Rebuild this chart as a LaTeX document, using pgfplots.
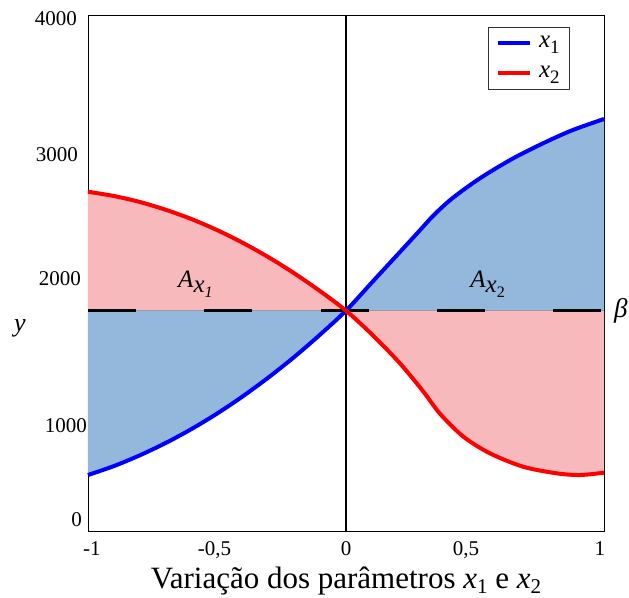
\documentclass[border=0pt]{standalone}
\usepackage{pgfplots}
\pgfplotsset{compat=1.18}
\usepgfplotslibrary{fillbetween}
\usepackage{fontspec}
\setmainfont{Liberation Serif}
\definecolor{fillblue}{RGB}{147,184,220}
\definecolor{fillpink}{RGB}{247,185,187}
\definecolor{basegray}{RGB}{160,150,175}
\begin{document}
\begin{tikzpicture}
\begin{axis}[
  at={(0,0)}, anchor=south west,
  scale only axis, width=516pt, height=516pt,
  xmin=-1, xmax=1, ymin=0, ymax=4000,
  clip=false,
  axis line style={line width=0.8pt},
  major tick length=0pt,
  xtick={-0.985,-0.51,0,0.465,0.984},
  xticklabels={{-1},{-0,5},{0},{0,5},{1}},
  xticklabel style={font=\fontsize{21}{25}\selectfont, anchor=base, inner sep=0pt, yshift=-24pt},
  ytick={85,818,1953,2915,3973},
  yticklabels={{0\hspace*{-5pt}},{1000\hspace*{-10pt}},{2000\hspace*{-4pt}},{3000\hspace*{-1pt}},{4000}},
  yticklabel style={font=\fontsize{21}{25}\selectfont, anchor=east, inner sep=0pt, xshift=-11pt},
  xlabel={Variação dos parâmetros \textit{x}\raisebox{-5pt}{\fontsize{21}{23}\selectfont 1} e \textit{x}\raisebox{-5pt}{\fontsize{21}{23}\selectfont 2}},
  xlabel style={at={(axis description cs:0.5,0)}, anchor=base, yshift=-57pt, font=\fontsize{31}{34}\selectfont},
  ylabel={\textit{y}},
  ylabel style={at={(axis description cs:-0.132,0.393)}, rotate=-90, anchor=center, font=\fontsize{26}{30}\selectfont},
  legend style={at={(axis description cs:0.934,0.977)}, anchor=north east, draw=black!80, line width=0.6pt,
    inner xsep=8pt, inner ysep=3pt, row sep=4pt, column sep=5pt,
    nodes={inner sep=2pt, text height=15pt, text depth=7pt}},
  legend cell align=left,
  legend image code/.code={\draw[#1, line width=4pt] (0pt,0pt) -- (32pt,0pt);},
]
\addplot[draw=none, name path=base, forget plot] coordinates {(-1,1708) (1,1708)};
\addplot[basegray, line width=1.5pt, forget plot] coordinates {(-1,1708) (1,1708)};
\addplot[black, line width=3pt, dash pattern=on 48pt off 68.25pt, forget plot] coordinates {(-1,1708) (1,1708)};
\addplot[black, line width=2.5pt, forget plot] coordinates {(0,0) (0,4000)};
\addplot[blue, line width=4pt, smooth, name path=xone] coordinates {
(-1,434) (-0.9,503) (-0.8,586) (-0.7,681) (-0.6,789) (-0.5,910) (-0.4,1044) (-0.3,1191) (-0.2,1350) (-0.1,1523) (0,1708)
(0.1,1926) (0.2,2143) (0.28,2317) (0.34,2448) (0.412,2579) (0.519,2734) (0.648,2889) (0.777,3018) (0.880,3109) (1,3194)};
\addlegendentry{\fontsize{25}{26}\selectfont\textit{x}\raisebox{-6pt}{\fontsize{19}{20}\selectfont 1}}
\addplot[red, line width=4pt, smooth, name path=xtwo] coordinates {
(-1,2630) (-0.9,2597) (-0.8,2551) (-0.7,2491) (-0.6,2419) (-0.5,2333) (-0.4,2234) (-0.3,2122) (-0.2,1997) (-0.1,1859) (0,1708)
(0.103,1519) (0.209,1300) (0.300,1080) (0.364,910) (0.455,731) (0.558,602) (0.687,498) (0.817,447) (0.907,434) (1,452)};
\addlegendentry{\fontsize{25}{26}\selectfont\textit{x}\raisebox{-6pt}{\fontsize{19}{20}\selectfont 2}}
\addplot[fillblue, forget plot] fill between[of=xone and base];
\addplot[fillpink, forget plot] fill between[of=xtwo and base];
\node[anchor=base west, inner sep=0pt, font=\fontsize{25}{28}\selectfont] at (axis cs:-0.651,1891) {\textit{A}\raisebox{-5pt}{\textit{x}}\raisebox{-10pt}{\fontsize{16}{18}\selectfont\textit{1}}};
\node[anchor=base west, inner sep=0pt, font=\fontsize{25}{28}\selectfont] at (axis cs:0.481,1891) {\textit{A}\raisebox{-5pt}{\textit{x}}\raisebox{-10pt}{\fontsize{16}{18}\selectfont 2}};
\node[anchor=west, inner sep=0pt, xshift=10pt, font=\fontsize{27}{30}\selectfont\itshape] at (axis cs:1,1708) {β};
\end{axis}
\pgfresetboundingbox
\useasboundingbox (-88pt,-66pt) rectangle (541pt,531pt);
\end{tikzpicture}
\end{document}
